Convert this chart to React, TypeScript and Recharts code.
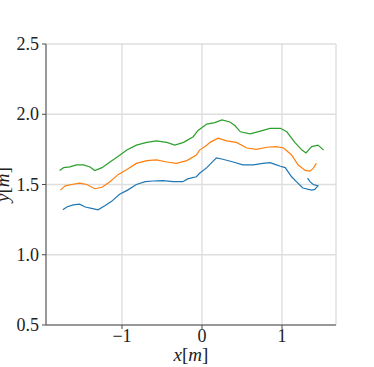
import React from 'react';
import { LineChart, Line, XAxis, YAxis, CartesianGrid, Label } from 'recharts';

// trajectories (x in m, y in m)
const blueX = [-1.74, -1.69, -1.61, -1.53, -1.46, -1.38, -1.3, -1.21, -1.13, -1.03, -0.93, -0.82, -0.71, -0.61, -0.49, -0.36, -0.24, -0.18, -0.07, -0.03, 0.06, 0.18, 0.26, 0.39, 0.51, 0.64, 0.76, 0.85, 0.93, 0.98, 1.04, 1.12, 1.18, 1.26, 1.37, 1.41, 1.45, 1.39, 1.35, 1.32];
const blueY = [1.32, 1.34, 1.355, 1.36, 1.34, 1.33, 1.32, 1.35, 1.38, 1.43, 1.46, 1.5, 1.52, 1.525, 1.527, 1.52, 1.52, 1.54, 1.555, 1.58, 1.62, 1.69, 1.68, 1.66, 1.64, 1.64, 1.65, 1.655, 1.64, 1.63, 1.62, 1.555, 1.52, 1.475, 1.46, 1.465, 1.49, 1.5, 1.52, 1.545];

const orangeX = [-1.77, -1.71, -1.63, -1.53, -1.44, -1.34, -1.25, -1.15, -1.05, -0.93, -0.82, -0.69, -0.57, -0.44, -0.32, -0.19, -0.07, -0.03, 0.06, 0.1, 0.2, 0.31, 0.43, 0.56, 0.68, 0.81, 0.93, 1.02, 1.12, 1.2, 1.29, 1.35, 1.39, 1.43];
const orangeY = [1.46, 1.49, 1.5, 1.51, 1.5, 1.47, 1.48, 1.52, 1.57, 1.61, 1.65, 1.67, 1.675, 1.66, 1.65, 1.67, 1.71, 1.745, 1.78, 1.8, 1.83, 1.81, 1.8, 1.76, 1.75, 1.765, 1.77, 1.76, 1.71, 1.64, 1.6, 1.595, 1.615, 1.65];

const greenX = [-1.78, -1.73, -1.65, -1.57, -1.48, -1.4, -1.34, -1.25, -1.15, -1.05, -0.94, -0.82, -0.69, -0.57, -0.44, -0.34, -0.23, -0.11, -0.05, 0.06, 0.16, 0.25, 0.35, 0.41, 0.48, 0.6, 0.73, 0.85, 0.98, 1.06, 1.16, 1.25, 1.3, 1.37, 1.45, 1.52];
const greenY = [1.6, 1.62, 1.625, 1.64, 1.64, 1.625, 1.6, 1.62, 1.66, 1.7, 1.745, 1.78, 1.8, 1.81, 1.8, 1.78, 1.8, 1.84, 1.885, 1.93, 1.94, 1.96, 1.945, 1.92, 1.875, 1.86, 1.88, 1.9, 1.9, 1.875, 1.8, 1.745, 1.725, 1.77, 1.78, 1.745];

const xTicks = [-1, 0, 1];
const yTicks = [0.5, 1.0, 1.5, 2.0, 2.5];

const toPoints = (xs: number[], ys: number[]) => xs.map((x, i) => ({ x, y: ys[i] }));

const FONT = '"Liberation Serif", serif';
const FRAME = '#4a4a4a';

const fmtX = (v: number) => (v < 0 ? `\u2212${Math.abs(v)}` : `${v}`);
const fmtY = (v: number) => v.toFixed(1);

const XTick = (props: any) => {
  const { x, y, payload } = props;
  return (
    <text x={x} y={y + 10} textAnchor="middle" fontFamily={FONT} fontSize={18} fill="#222">
      {fmtX(payload.value)}
    </text>
  );
};

const YTick = (props: any) => {
  const { x, y, payload } = props;
  return (
    <text x={x} y={y + 6} textAnchor="end" fontFamily={FONT} fontSize={18} fill="#222">
      {fmtY(payload.value)}
    </text>
  );
};

const XTitle = (props: any) => {
  const { x, y, width } = props.viewBox;
  return (
    <text x={x + width / 2} y={y + 36} textAnchor="middle" fontFamily={FONT} fontSize={19} fill="#222">
      <tspan fontStyle="italic">x</tspan>[<tspan fontStyle="italic">m</tspan>]
    </text>
  );
};

const YTitle = (props: any) => {
  const { y, height } = props.viewBox;
  const cy = y + height / 2;
  return (
    <text x={9} y={cy} transform={`rotate(-90, 9, ${cy})`} textAnchor="middle" fontFamily={FONT} fontSize={19} fill="#222">
      <tspan fontStyle="italic">y</tspan>[<tspan fontStyle="italic">m</tspan>]
    </text>
  );
};

export default function App() {
  return (
    <div style={{ position: 'absolute', left: 0, top: 0, width: 374, height: 367, background: '#fff' }}>
      <LineChart width={374} height={367} margin={{ top: 44, right: 38, left: 0, bottom: 0 }}>
        <CartesianGrid stroke="#dedede" strokeWidth={1.4} />
        <XAxis
          type="number"
          dataKey="x"
          domain={[-1.95, 1.675]}
          ticks={xTicks}
          allowDataOverflow
          height={42}
          tickSize={4}
          tickMargin={3}
          tick={<XTick />}
          tickLine={{ stroke: FRAME }}
          axisLine={{ stroke: FRAME }}
        >
          <Label content={<XTitle />} />
        </XAxis>
        <XAxis xAxisId="top" orientation="top" type="number" dataKey="x" domain={[-1.95, 1.675]} height={0} tick={false} tickLine={false} axisLine={{ stroke: FRAME }} />
        <YAxis
          type="number"
          domain={[0.5, 2.5]}
          ticks={yTicks}
          allowDataOverflow
          width={46}
          tickSize={4}
          tickMargin={3}
          tick={<YTick />}
          tickLine={{ stroke: FRAME }}
          axisLine={{ stroke: FRAME }}
        >
          <Label content={<YTitle />} />
        </YAxis>
        <YAxis yAxisId="right" orientation="right" type="number" domain={[0.5, 2.5]} width={0} tick={false} tickLine={false} axisLine={{ stroke: FRAME }} />
        <Line data={toPoints(blueX, blueY)} dataKey="y" stroke="#1f77b4" strokeWidth={1.2} dot={false} isAnimationActive={false} />
        <Line data={toPoints(orangeX, orangeY)} dataKey="y" stroke="#ff7f0e" strokeWidth={1.2} dot={false} isAnimationActive={false} />
        <Line data={toPoints(greenX, greenY)} dataKey="y" stroke="#2ca02c" strokeWidth={1.2} dot={false} isAnimationActive={false} />
      </LineChart>
    </div>
  );
}
